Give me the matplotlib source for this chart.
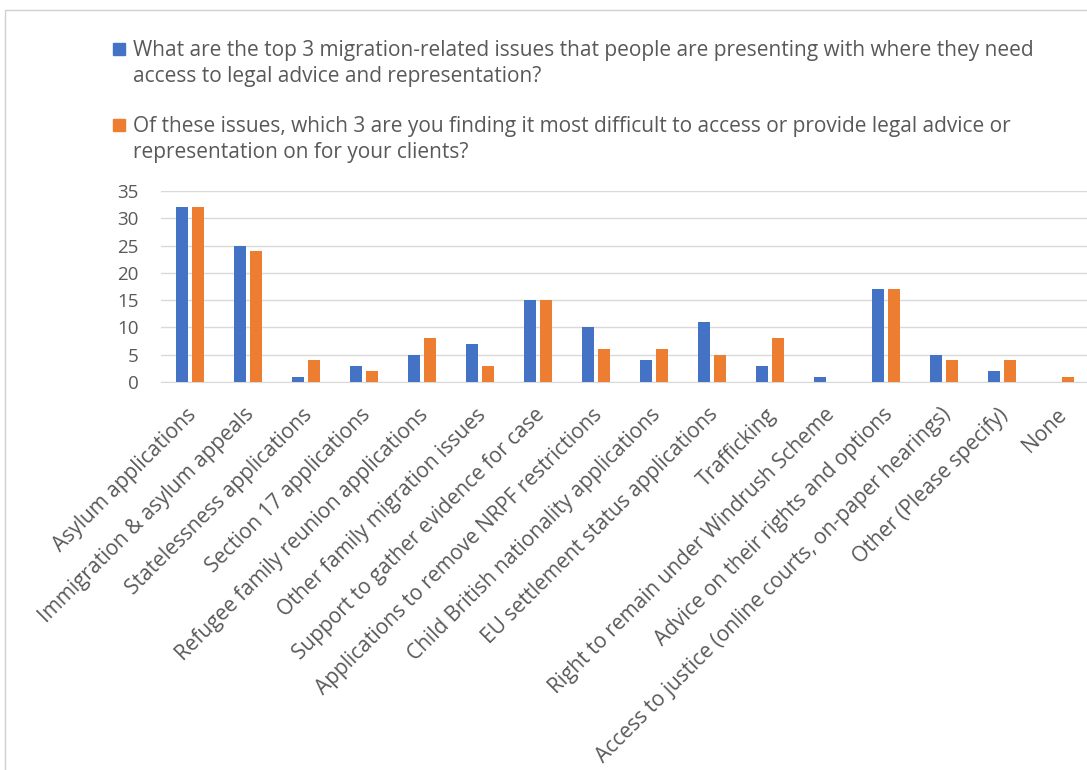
import numpy as np
import matplotlib.pyplot as plt
import matplotlib.transforms as mtransforms
from matplotlib.patches import Rectangle

categories = [
    "Asylum applications",
    "Immigration & asylum appeals",
    "Statelessness applications",
    "Section 17 applications",
    "Refugee family reunion applications",
    "Other family migration issues",
    "Support to gather evidence for case",
    "Applications to remove NRPF restrictions",
    "Child British nationality applications",
    "EU settlement status applications",
    "Trafficking",
    "Right to remain under Windrush Scheme",
    "Advice on their rights and options",
    "Access to justice (online courts, on-paper hearings)",
    "Other (Please specify)",
    "None",
]
presenting = [32, 25, 1, 3, 5, 7, 15, 10, 4, 11, 3, 1, 17, 5, 2, 0]
difficult = [32, 24, 4, 2, 8, 3, 15, 6, 6, 5, 8, 0, 17, 4, 4, 1]

legend_labels = [
    ["What are the top 3 migration-related issues that people are presenting with where they need",
     "access to legal advice and representation?"],
    ["Of these issues, which 3 are you finding it most difficult to access or provide legal advice or",
     "representation on for your clients?"],
]

blue = "#4472C4"
orange = "#ED7D31"
text_col = "#595959"
grid_col = "#D9D9D9"

plt.rcParams["font.family"] = ["Open Sans", "DejaVu Sans"]

W, H = 1087, 770
fig = plt.figure(figsize=(W / 100, H / 100), dpi=100)

# chart frame
fig.patches.append(Rectangle((5 / W, -0.1), 1.2, 1 - 10 / H + 0.1, transform=fig.transFigure,
                             fill=False, edgecolor="#D0D0D0", linewidth=1))

ax = fig.add_axes([161 / W, 1 - 382 / H, 928 / W, (382 - 191) / H])
x = np.arange(len(categories))
bw = 0.21
ax.bar(x - 0.14, presenting, width=bw, color=blue, zorder=3)
ax.bar(x + 0.14, difficult, width=bw, color=orange, zorder=3)

ax.set_xlim(-0.5, len(categories) - 0.5)
ax.set_ylim(0, 35)
ax.set_yticks(range(0, 36, 5))
ax.yaxis.grid(True, color=grid_col, linewidth=1, zorder=0)
ax.set_axisbelow(True)
for s in ["top", "right", "left"]:
    ax.spines[s].set_visible(False)
ax.spines["bottom"].set_color(grid_col)
ax.tick_params(axis="both", length=0, colors=text_col)
ax.tick_params(axis="y", pad=16, labelsize=13.5)
ax.tick_params(axis="x", pad=16, labelsize=15)
ax.set_xticks(x)
ax.set_xticklabels(categories, rotation=45, ha="right", rotation_mode="anchor")
shift = mtransforms.ScaledTranslation(-4 / 100, 0, fig.dpi_scale_trans)
for lbl in ax.get_xticklabels():
    lbl.set_transform(lbl.get_transform() + shift)

# legend entries: square marker plus two text lines each
for i, (lines, col) in enumerate(zip(legend_labels, [blue, orange])):
    base = 56 + i * 76
    fig.patches.append(Rectangle((113 / W, 1 - (base - 1) / H), 12 / W, 12 / H,
                                 transform=fig.transFigure, color=col))
    for j, line in enumerate(lines):
        fig.text(133 / W, 1 - (base + j * 26) / H, line, ha="left", va="baseline",
                 color=text_col, fontsize=15)

fig.savefig("out.png", dpi=100)
